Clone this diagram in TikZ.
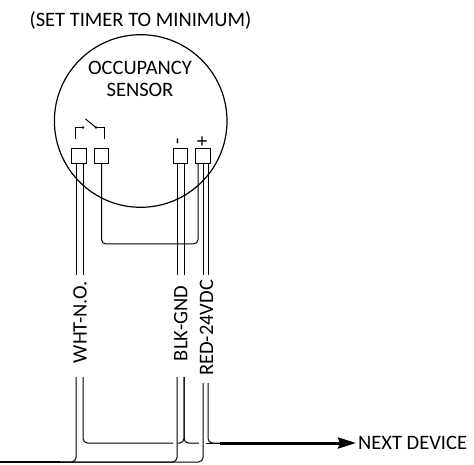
\documentclass[tikz,border=0pt]{standalone}
\usepackage{fontspec}
\setmainfont{Carlito}
\usetikzlibrary{arrows.meta}
\begin{document}
\begin{tikzpicture}[x=1pt,y=-1pt,
  wire/.style={line width=1pt,rounded corners=4.5pt},
  thick wire/.style={line width=2.4pt},
  arrow wire/.style={line width=3pt},
  term/.style={draw,line width=1.2pt,minimum size=14.5pt,inner sep=0pt},
  lbl/.style={font=\fontsize{20.5pt}{21.5pt}\selectfont,inner sep=0pt,align=center},
  vlbl/.style={lbl,rotate=90}]
\useasboundingbox (0,0) rectangle (474,465);
\node[draw,circle,line width=1.2pt,minimum size=172.6pt,inner sep=0pt] (sensor) at (140.7,121) {};
\node[lbl] (title) at (140.5,20) {(SET TIMER TO MINIMUM)};
\node[lbl] (name) at (140,79) {OCCUPANCY\\SENSOR};
\node[term] (t1) at (79,156) {};
\node[term] (t2) at (101.5,156) {};
\node[term] (t3) at (180.5,156) {};
\node[term] (t4) at (203,156) {};
\node[vlbl] (minus) at (180,141.5) {-};
\node[vlbl] (plus) at (203,141.5) {+};
% switch
\coordinate (s1) at (75,139);
\coordinate (s2) at (75,127.5);
\coordinate (s3) at (83,127.5);
\coordinate (s4) at (96,127.5);
\coordinate (s5) at (104.3,127.5);
\coordinate (s6) at (104.3,139);
\coordinate (s7) at (85.5,119);
\draw[line width=1pt] (s1) -- (s2) -- (s3);
\draw[line width=1pt] (s4) -- (s5) -- (s6);
\fill (s3) circle (1.4pt) (s4) circle (1.4pt);
\draw[line width=1pt] (s7) -- (s4);
% jumper
\coordinate (j0) at (198,163.5);
\coordinate (j1) at (101.5,244);
\coordinate (j2) at (198,244);
\draw[wire] (t2.south) -- (j1) -- (j2) -- (j0);
% wire columns: upper part from terminals to the labels
\coordinate (a0) at (76,163.5);
\coordinate (a1) at (76,275);
\coordinate (a2) at (76,377);
\coordinate (ba) at (76,462);
\coordinate (ta0) at (83,163.5);
\coordinate (ta1) at (83,275);
\coordinate (ta2) at (83,377);
\coordinate (ta) at (83,443);
\coordinate (b0) at (177,163.5);
\coordinate (b1) at (177,275);
\coordinate (b2) at (177,377);
\coordinate (bb) at (177,462);
\coordinate (tb0) at (184,163.5);
\coordinate (tb1) at (184,275);
\coordinate (tb2) at (184,377);
\coordinate (tb) at (184,443);
\coordinate (c0) at (203,163.5);
\coordinate (c1) at (203,275);
\coordinate (c2) at (203,383);
\coordinate (bc) at (203,462);
\coordinate (tc0) at (208,163.5);
\coordinate (tc1) at (208,275);
\coordinate (tc2) at (208,383);
\coordinate (tc) at (208,443);
\coordinate (feedS) at (0,462);
\coordinate (feedE) at (60,462);
\coordinate (nextS) at (220,443);
\coordinate (l1) at (60,462);
\coordinate (u1) at (173,443);
\coordinate (u2) at (180,443);
\coordinate (u3) at (199,443);
\coordinate (u4) at (205.5,443);
\coordinate (tip) at (356,443);
\draw[line width=1pt] (a0) -- (a1) (ta0) -- (ta1) (b0) -- (b1) (tb0) -- (tb1) (c0) -- (c1) (tc0) -- (tc1);
\draw[wire] (a2) -- (ba) -- (l1);
\draw[wire] (b2) -- (bb) -- (l1);
\draw[wire] (c2) -- (bc) -- (l1);
\draw[wire] (ta2) -- (ta) -- (u1);
\draw[wire] (tb2) -- (tb) -- (u3);
\draw[wire] (tb2) -- (tb) -- (u2);
\draw[wire] (tc2) -- (tc) -- (nextS);
\draw[wire] (u4) -- (nextS);
\draw[thick wire] (feedS) -- (feedE);
\node[vlbl] (wht) at (80,322) {WHT-N.O.};
\node[vlbl] (blk) at (180.7,323.5) {BLK-GND};
\node[vlbl] (red) at (206.5,328) {RED-24VDC};
\node[lbl,anchor=west] (next) at (358,443) {NEXT DEVICE};
\draw[arrow wire,-{Stealth[length=18pt,width=11pt,inset=2pt]}] (nextS) -- (tip);
\end{tikzpicture}
\end{document}
